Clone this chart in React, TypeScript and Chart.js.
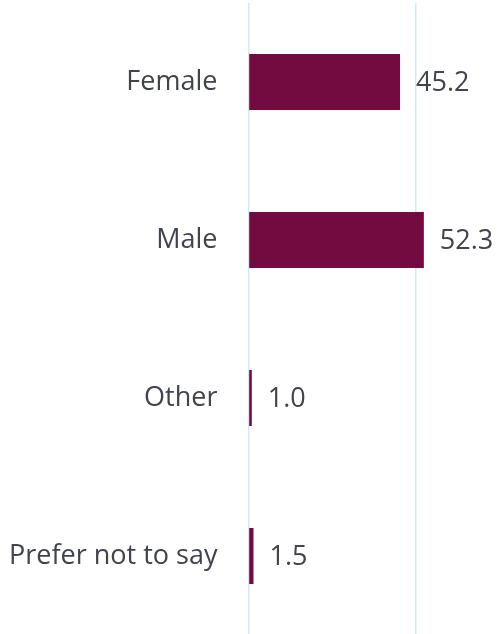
import React, { useEffect, useRef } from "react";
import { Chart, registerables } from "chart.js";

Chart.register(...registerables);

const categories = ["Female", "Male", "Other", "Prefer not to say"];
const values = [45.2, 52.3, 1.0, 1.5];
const valueLabels = ["45.2", "52.3", "1.0", "1.5"];

const BAR_COLOR = "#730B40";
const TEXT_COLOR = "#41434f";
const GRID_COLOR = "#d3e9f1";
const FONT = "'Open Sans', sans-serif";
const FONT_SIZE = 27;

const valueLabelPlugin = {
  id: "valueLabels",
  afterDatasetsDraw(chart: any) {
    const ctx = chart.ctx;
    const meta = chart.getDatasetMeta(0);
    ctx.save();
    ctx.fillStyle = TEXT_COLOR;
    ctx.font = `${FONT_SIZE}px ${FONT}`;
    ctx.textAlign = "left";
    ctx.textBaseline = "middle";
    meta.data.forEach((el: any, i: number) => {
      ctx.fillText(valueLabels[i], el.x + 16, el.y + 1);
    });
    ctx.restore();
  },
};

export default function App() {
  const ref = useRef<HTMLCanvasElement | null>(null);
  useEffect(() => {
    if (!ref.current) return;
    const chart = new Chart(ref.current, {
      type: "bar",
      data: {
        labels: categories,
        datasets: [
          {
            data: values,
            backgroundColor: BAR_COLOR,
            borderWidth: 0,
            barPercentage: 0.355,
            categoryPercentage: 1,
          },
        ],
      },
      options: {
        indexAxis: "y",
        animation: false,
        responsive: false,
        maintainAspectRatio: false,
        layout: { padding: { top: 3, bottom: 5, right: 0, left: 9 } },
        plugins: {
          legend: { display: false },
          tooltip: { enabled: false },
          title: { display: false },
        },
        scales: {
          x: {
            min: 0,
            max: 75,
            ticks: { display: false, stepSize: 50 },
            border: { display: false },
            grid: {
              color: (c: any) => (c.tick && c.tick.value > 50 ? "rgba(0,0,0,0)" : GRID_COLOR),
              lineWidth: 1.5,
              drawTicks: false,
            },
          },
          y: {
            ticks: {
              color: TEXT_COLOR,
              font: { family: FONT, size: FONT_SIZE, lineHeight: 0.1 },
              padding: 0,
            },
            border: { display: false },
            grid: { display: false, drawTicks: true, tickLength: 31 },
          },
        },
      },
      plugins: [valueLabelPlugin],
    });
    return () => chart.destroy();
  }, []);
  return (
    <div style={{ position: "fixed", left: 0, top: 0, width: 500, height: 634, overflow: "hidden", background: "#fff" }}>
      <canvas ref={ref} width={500} height={640} style={{ display: "block", width: 500, height: 640 }} />
    </div>
  );
}
